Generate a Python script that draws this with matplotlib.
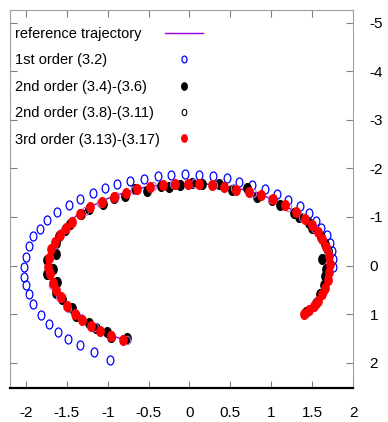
import matplotlib
matplotlib.use("Agg")
import matplotlib.pyplot as plt
from matplotlib.path import Path
import numpy as np

plt.rcParams['font.family'] = ['Liberation Sans', 'DejaVu Sans']

# reference trajectory (x, y)
ref_x = [1.40, 1.52, 1.62, 1.69, 1.71, 1.70, 1.65, 1.57, 1.45, 1.30, 1.12, 0.92, 0.70, 0.45,
         0.20, -0.05, -0.30, -0.55, -0.78, -1.00, -1.20, -1.38, -1.52, -1.63, -1.70, -1.72,
         -1.70, -1.63, -1.52, -1.38, -1.22, -1.05, -0.90, -0.72]
ref_y = [1.00, 0.80, 0.55, 0.30, 0.05, -0.20, -0.45, -0.68, -0.90, -1.10, -1.28, -1.43, -1.55,
         -1.63, -1.68, -1.69, -1.67, -1.61, -1.51, -1.38, -1.22, -1.03, -0.80, -0.55, -0.28,
         0.00, 0.25, 0.50, 0.75, 0.98, 1.18, 1.35, 1.47, 1.58]

# 1st order (3.2)
o1_x = [1.756, 1.756, 1.744, 1.720, 1.683, 1.610, 1.549, 1.463, 1.354, 1.207, 1.073, 0.927,
        0.768, 0.610, 0.463, 0.293, 0.122, -0.049, -0.220, -0.390, -0.561, -0.732, -0.890,
        -1.037, -1.183, -1.341, -1.476, -1.622, -1.744, -1.829, -1.915, -1.963, -2.000,
        -2.024, -2.024, -2.000, -1.963, -1.915, -1.817, -1.720, -1.610, -1.488, -1.341,
        -1.171, -0.976]
o1_y = [0.021, -0.144, -0.309, -0.473, -0.638, -0.782, -0.926, -1.091, -1.235, -1.358, -1.481,
        -1.584, -1.667, -1.728, -1.811, -1.852, -1.872, -1.893, -1.872, -1.852, -1.790,
        -1.739, -1.687, -1.605, -1.502, -1.379, -1.255, -1.111, -0.947, -0.761, -0.617,
        -0.412, -0.185, 0.021, 0.226, 0.391, 0.576, 0.782, 1.008, 1.193, 1.358, 1.502,
        1.626, 1.770, 1.934]

# 2nd order (3.4)-(3.6)
o2a_x = [1.427, 1.549, 1.598, 1.646, 1.659, 1.671, 1.622, 1.695, 1.659, 1.610, 1.500, 1.463,
         1.341, 1.280, 1.110, 1.012, 0.829, 0.707, 0.524, 0.366, 0.159, 0.037, -0.110, -0.256,
         -0.354, -0.524, -0.671, -0.793, -0.927, -1.061, -1.232, -1.329, -1.463, -1.524,
         -1.598, -1.634, -1.634, -1.744, -1.671, -1.744, -1.622, -1.634, -1.561, -1.439,
         -1.390, -1.232, -1.146, -1.012, -0.963, -0.768]
o2a_y = [0.947, 0.761, 0.576, 0.391, 0.206, 0.062, -0.144, -0.309, -0.453, -0.597, -0.782,
         -0.885, -1.008, -1.091, -1.255, -1.358, -1.420, -1.605, -1.564, -1.687, -1.687,
         -1.708, -1.667, -1.626, -1.646, -1.543, -1.584, -1.440, -1.399, -1.276, -1.173,
         -1.070, -0.864, -0.741, -0.617, -0.473, -0.247, -0.123, 0.062, 0.165, 0.329, 0.556,
         0.679, 0.864, 1.029, 1.173, 1.276, 1.358, 1.461, 1.481]

# 2nd order (3.8)-(3.11)
o2b_x = [1.42, 1.55, 1.64, 1.70, 1.72, 1.69, 1.62, 1.52, 1.38, 1.20, 1.00, 0.78, 0.55, 0.30,
         0.05, -0.20, -0.45, -0.68, -0.90, -1.10, -1.28, -1.44, -1.57, -1.66, -1.71, -1.72,
         -1.68, -1.60, -1.48, -1.33, -1.15, -0.96, -0.76]
o2b_y = [0.98, 0.78, 0.52, 0.25, 0.00, -0.28, -0.55, -0.78, -1.00, -1.20, -1.37, -1.50, -1.60,
         -1.66, -1.69, -1.68, -1.63, -1.55, -1.43, -1.29, -1.12, -0.92, -0.68, -0.42, -0.15,
         0.12, 0.40, 0.64, 0.87, 1.08, 1.27, 1.42, 1.54]

# 3rd order (3.13)-(3.17)
o3_x = [1.402, 1.463, 1.524, 1.573, 1.622, 1.659, 1.695, 1.707, 1.720, 1.707, 1.671, 1.622,
        1.573, 1.500, 1.415, 1.305, 1.171, 1.024, 0.878, 0.732, 0.573, 0.427, 0.280, 0.122,
        -0.024, -0.183, -0.329, -0.488, -0.646, -0.780, -0.927, -1.073, -1.220, -1.341,
        -1.439, -1.512, -1.585, -1.646, -1.695, -1.720, -1.732, -1.707, -1.671, -1.634,
        -1.573, -1.500, -1.402, -1.317, -1.207, -1.098, -0.963, -0.817]
o3_y = [0.988, 0.905, 0.823, 0.720, 0.576, 0.453, 0.288, 0.123, -0.041, -0.206, -0.391, -0.556,
        -0.700, -0.844, -0.967, -1.111, -1.255, -1.379, -1.461, -1.523, -1.564, -1.626,
        -1.667, -1.687, -1.687, -1.687, -1.667, -1.626, -1.584, -1.502, -1.420, -1.317,
        -1.214, -1.070, -0.905, -0.782, -0.638, -0.494, -0.350, -0.165, 0.021, 0.165, 0.350,
        0.494, 0.638, 0.823, 0.988, 1.111, 1.235, 1.337, 1.440, 1.523]

xticks = [-2, -1.5, -1, -0.5, 0, 0.5, 1, 1.5, 2]
xtick_labels = ['-2', '-1.5', '-1', '-0.5', '0', '0.5', '1', '1.5', '2']
yticks = [-5, -4, -3, -2, -1, 0, 1, 2]
ytick_labels = ['-5', '-4', '-3', '-2', '-1', '0', '1', '2']

# squeezed circle, the original was resized horizontally
circ = Path.unit_circle()
ell = Path(circ.vertices * np.array([0.75, 1.0]), circ.codes)

fig = plt.figure(figsize=(3.88, 4.22), dpi=100)
ax = fig.add_axes([10 / 388, 34 / 422, 343 / 388, 378 / 422])

ax.plot(ref_x, ref_y, color='#9400d3', lw=1.0, label='reference trajectory', zorder=2)
ax.plot(o1_x, o1_y, ls='none', marker=ell, ms=6.5, mfc='none', mec='#0000ff', mew=0.9,
        label='1st order (3.2)', zorder=3)
ax.plot(o2a_x, o2a_y, ls='none', marker=ell, ms=7, mfc='black', mec='black',
        label='2nd order (3.4)-(3.6)', zorder=4)
ax.plot(o2b_x, o2b_y, ls='none', marker=ell, ms=6, mfc='none', mec='#b070e0', mew=0.8,
        label='2nd order (3.8)-(3.11)', zorder=5)
ax.plot(o3_x, o3_y, ls='none', marker=ell, ms=7, mfc='#ff0000', mec='#ff0000',
        label='3rd order (3.13)-(3.17)', zorder=6)

ax.set_xlim(-2.195, 2.0)
ax.set_ylim(2.52, -5.26)
ax.set_xticks(xticks)
ax.set_xticklabels(xtick_labels)
ax.set_yticks(yticks)
ax.set_yticklabels(ytick_labels)

ax.yaxis.tick_right()
ax.tick_params(axis='both', direction='in', length=5, width=0.8, color='#808080',
               labelsize=11, top=True, left=True, right=True, bottom=True)
ax.tick_params(axis='x', pad=13)
ax.tick_params(axis='y', pad=12)
for s in ['left', 'top', 'right']:
    ax.spines[s].set_color('#a0a0a0')
    ax.spines[s].set_linewidth(0.8)
ax.spines['bottom'].set_color('black')
ax.spines['bottom'].set_linewidth(1.6)

fs = 10.5
leg = ax.legend(loc='upper left', bbox_to_anchor=(5 / 343, 1 - 17 / 378), frameon=False,
                markerfirst=False, fontsize=fs, borderpad=0, borderaxespad=0,
                handlelength=2.6, handletextpad=0.35, labelspacing=0.85, markerscale=0.75)
leg.legend_handles[3].set_markeredgecolor('black')

# gnuplot style key: text left aligned, samples in one column on the right
fig.canvas.draw()
r = fig.canvas.get_renderer()
widths = [t.get_window_extent(r).width for t in leg.get_texts()]
col = leg._legend_handle_box.get_children()[0]
for row, w in zip(col.get_children(), widths):
    row.sep = row.sep + (max(widths) - w) * 72 / fig.dpi

fig.savefig('out.png', dpi=100)
